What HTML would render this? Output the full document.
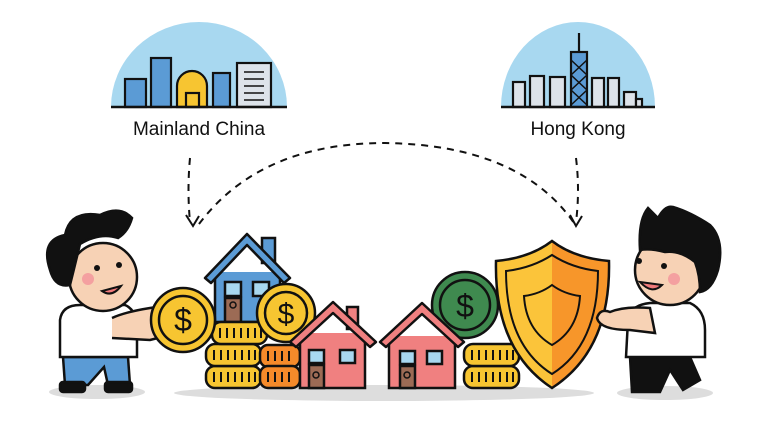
<!DOCTYPE html>
<html><head><meta charset="utf-8"><style>
html,body{margin:0;padding:0;background:#fff;width:768px;height:431px;overflow:hidden}
svg{display:block}
text{font-family:"Liberation Sans",sans-serif}
</style></head><body>
<svg width="768" height="431" viewBox="0 0 768 431" xmlns="http://www.w3.org/2000/svg">
<defs>
<g id="coinrow">
<rect x="0" y="0" width="55" height="22" rx="9" fill="#f7c531" stroke="#111" stroke-width="2.5"/>
<g stroke="#111" stroke-width="2"><line x1="8" y1="6" x2="8" y2="16"/><line x1="15" y1="6" x2="15" y2="16"/><line x1="22" y1="6" x2="22" y2="16"/><line x1="29" y1="6" x2="29" y2="16"/><line x1="36" y1="6" x2="36" y2="16"/><line x1="43" y1="6" x2="43" y2="16"/><line x1="49" y1="6" x2="49" y2="16"/></g>
</g>
</defs>
<!-- Mainland dome -->
<path d="M111 107 A88 85 0 0 1 287 107 Z" fill="#a8d8f0"/>
<g stroke="#111" stroke-width="2.2">
<rect x="125" y="79" width="21" height="28" fill="#5b9bd5"/>
<rect x="151" y="58" width="20" height="49" fill="#5b9bd5"/>
<path d="M177 107 V86 A15 15 0 0 1 207 86 V107 Z" fill="#f7c531"/>
<rect x="186" y="93" width="13" height="14" fill="#f7c531"/>
<rect x="213" y="73" width="17" height="34" fill="#5b9bd5"/>
<rect x="237" y="63" width="34" height="44" fill="#dde3ea"/>
<line x1="111" y1="107" x2="287" y2="107" stroke-width="2.5"/>
</g>
<g stroke="#111" stroke-width="1.5"><line x1="244" y1="72" x2="264" y2="72"/><line x1="244" y1="79" x2="264" y2="79"/><line x1="244" y1="86" x2="264" y2="86"/><line x1="244" y1="93" x2="264" y2="93"/><line x1="244" y1="100" x2="264" y2="100"/></g>
<text x="199" y="135" font-size="19" text-anchor="middle" fill="#111">Mainland China</text>
<!-- HK dome -->
<path d="M501 107 A77 85 0 0 1 655 107 Z" fill="#a8d8f0"/>
<g stroke="#111" stroke-width="2.2" fill="#dde3ea">
<rect x="513" y="82" width="12" height="25"/><rect x="530" y="76" width="14" height="31"/><rect x="550" y="77" width="15" height="30"/>
<rect x="571" y="52" width="16" height="55" fill="#5b9bd5"/><line x1="579" y1="52" x2="579" y2="33"/>
<path d="M571 60 L587 75 L571 90 L587 105 M587 60 L571 75 L587 90 L571 105" fill="none" stroke-width="1.5"/>
<rect x="592" y="78" width="12" height="29"/><rect x="608" y="78" width="11" height="29"/><rect x="624" y="92" width="12" height="15"/><rect x="636" y="99" width="6" height="8"/>
<line x1="501" y1="107" x2="655" y2="107" stroke-width="2.5"/>
</g>
<text x="578" y="135" font-size="19" text-anchor="middle" fill="#111">Hong Kong</text>
<!-- dashed connectors -->
<g fill="none" stroke="#111" stroke-width="2" stroke-dasharray="7 6">
<path d="M190 158 Q187 190 190 222"/>
<path d="M199 224 Q260 143 385 143 Q520 145 574 223"/>
<path d="M576 158 Q580 190 576 222"/>
</g>
<path d="M186 215 L193 226 L199 216 M570 215 L576 226 L582 216" fill="none" stroke="#111" stroke-width="2"/>
<!-- shadows -->
<ellipse cx="97" cy="392" rx="48" ry="7" fill="#ddd"/>
<ellipse cx="384" cy="393" rx="210" ry="8" fill="#ddd"/>
<ellipse cx="665" cy="393" rx="48" ry="7" fill="#ddd"/>
<!-- left person -->
<g stroke="#111" stroke-width="2.5">
<path d="M63 357 H128 L130 385 H108 L104 367 L88 385 H65 Z" fill="#5b9bd5"/>
<rect x="60" y="382" width="25" height="10" rx="3" fill="#111"/><rect x="105" y="382" width="27" height="10" rx="3" fill="#111"/>
<path d="M60 320 Q62 305 80 305 H125 Q137 310 137 330 V357 H60 Z" fill="#fff"/>
<circle cx="103" cy="277" r="34" fill="#f7d2b5"/>
<path d="M50 270 Q40 240 65 235 Q70 210 100 215 Q120 205 132 218 Q128 232 118 238 Q100 232 80 244 Q75 265 70 285 Q55 288 50 270 Z" fill="#111"/>
<path d="M112 318 Q125 312 150 308 L170 305 Q180 312 170 335 L150 340 L112 338" fill="#f7d2b5"/>
</g>
<circle cx="88" cy="279" r="6" fill="#f4a0a0"/>
<circle cx="97" cy="268" r="3" fill="#111"/><circle cx="119" cy="265" r="3" fill="#111"/>
<path d="M102 291 Q112 298 121 286 Z" fill="#f07a7a" stroke="#111" stroke-width="2"/>
<!-- blue house -->
<g stroke="#111" stroke-width="2.5">
<rect x="262" y="238" width="13" height="25" fill="#5b9bd5"/>
<path d="M215 272 V322 H280 V272" fill="#5b9bd5"/>
<path d="M205 278 L247 234 L290 278 L284 283 L247 245 L211 283 Z" fill="#5b9bd5" stroke-linejoin="round"/>
<rect x="225" y="282" width="16" height="14" fill="#a8d8f0"/><rect x="253" y="282" width="16" height="14" fill="#a8d8f0"/>
<rect x="225" y="298" width="16" height="24" fill="#9c6b55"/>
<circle cx="233" cy="305" r="3" fill="none" stroke-width="1.5"/>
</g>
<!-- coin stacks left -->
<use href="#coinrow" x="206" y="366"/><use href="#coinrow" x="206" y="344"/><use href="#coinrow" x="212" y="322"/>
<g transform="translate(260,345)"><rect width="40" height="22" rx="8" fill="#f58a2a" stroke="#111" stroke-width="2.5"/></g>
<g transform="translate(260,366)"><rect width="40" height="22" rx="8" fill="#f58a2a" stroke="#111" stroke-width="2.5"/></g>
<g stroke="#111" stroke-width="2"><path d="M268 351v10M275 351v10M282 351v10M289 351v10M268 372v10M275 372v10M282 372v10M289 372v10"/></g>
<!-- coins -->
<g stroke="#111" stroke-width="2.5">
<circle cx="183" cy="320" r="32" fill="#f7c531"/><circle cx="183" cy="320" r="24" fill="#f7c531"/>
<circle cx="286" cy="313" r="29" fill="#f7c531"/><circle cx="286" cy="313" r="21" fill="#f7c531"/>
<circle cx="465" cy="305" r="33" fill="#3f8a4f"/><circle cx="465" cy="305" r="25" fill="#3f8a4f"/>
</g>
<text x="183" y="331" font-size="32" text-anchor="middle" fill="#111">$</text>
<text x="286" y="324" font-size="30" text-anchor="middle" fill="#111">$</text>
<text x="465" y="317" font-size="32" text-anchor="middle" fill="#111">$</text>
<!-- pink house 1 -->
<g stroke="#111" stroke-width="2.5">
<rect x="347" y="307" width="11" height="22" fill="#f08080"/>
<path d="M300 333 V388 H365 V333" fill="#f08080"/>
<path d="M290 342 L333 302 L376 342 L370 347 L333 313 L296 347 Z" fill="#f08080" stroke-linejoin="round"/>
<rect x="309" y="350" width="15" height="13" fill="#a8d8f0"/><rect x="340" y="350" width="15" height="13" fill="#a8d8f0"/>
<rect x="309" y="365" width="15" height="23" fill="#9c6b55"/>
<circle cx="316" cy="375" r="3" fill="none" stroke-width="1.5"/>
</g>
<!-- right coin stack -->
<use href="#coinrow" x="464" y="366"/><use href="#coinrow" x="464" y="344"/>
<!-- pink house 2 -->
<g stroke="#111" stroke-width="2.5">
<path d="M389 336 V388 H455 V336" fill="#f08080"/>
<path d="M380 342 L422 303 L464 342 L458 347 L422 314 L386 347 Z" fill="#f08080" stroke-linejoin="round"/>
<rect x="400" y="351" width="15" height="13" fill="#a8d8f0"/><rect x="427" y="351" width="15" height="13" fill="#a8d8f0"/>
<rect x="400" y="366" width="15" height="22" fill="#9c6b55"/>
<circle cx="407" cy="375" r="3" fill="none" stroke-width="1.5"/>
</g>
<!-- shield -->
<path d="M552 241 Q530 258 496 261 Q494 350 552 388 Z" fill="#fbc43a"/>
<path d="M552 241 Q574 258 609 261 Q611 350 552 388 Z" fill="#f7962a"/>
<path d="M552 241 Q530 258 496 261 Q494 350 552 388 Q611 350 609 261 Q574 258 552 241 Z" fill="none" stroke="#111" stroke-width="2.5"/>
<path d="M552 255 Q532 268 506 271 Q506 345 552 374 Q598 345 598 271 Q572 268 552 255 Z" fill="none" stroke="#111" stroke-width="2"/>
<path d="M552 285 Q540 294 524 296 Q526 330 552 345 Q578 330 580 296 Q564 294 552 285 Z" fill="none" stroke="#111" stroke-width="2"/>
<!-- right person -->
<g stroke="#111" stroke-width="2.5">
<path d="M630 357 H690 L700 380 L683 390 L670 370 L660 392 H632 Z" fill="#111"/>
<path d="M628 320 Q630 305 650 303 H690 Q705 310 705 330 V357 H626 Z" fill="#fff"/>
<circle cx="670" cy="270" r="35" fill="#f7d2b5"/>
<path d="M640 250 Q638 220 648 208 L658 218 Q665 205 673 207 Q690 212 710 225 Q725 240 718 270 Q712 290 700 292 Q700 275 695 262 Q680 250 665 252 Q650 248 640 250 Z" fill="#111"/>
<path d="M630 330 Q600 330 597 318 Q600 308 610 312 Q625 306 650 308 L655 333 Z" fill="#f7d2b5"/>
</g>
<circle cx="674" cy="279" r="6" fill="#f4a0a0"/>
<circle cx="639" cy="261" r="3" fill="#111"/><circle cx="664" cy="266" r="3" fill="#111"/>
<path d="M640 282 Q652 295 662 285 Z" fill="#f07a7a" stroke="#111" stroke-width="2"/>
</svg>
</body></html>
